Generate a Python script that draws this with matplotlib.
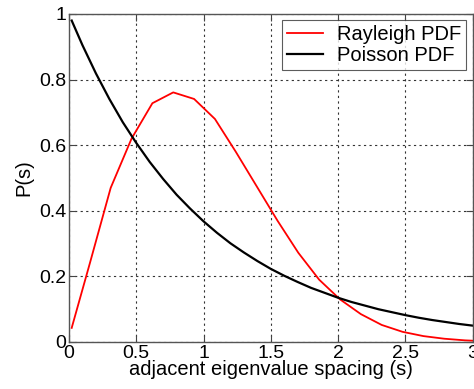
import matplotlib
matplotlib.use("Agg")
import matplotlib.pyplot as plt

# Rayleigh PDF (red)
s_rayleigh = [0.02, 0.155, 0.31, 0.465, 0.62, 0.775, 0.93, 1.085, 1.24, 1.395,
              1.55, 1.705, 1.86, 2.015, 2.17, 2.325, 2.48, 2.635, 2.79, 2.945, 3.0]
p_rayleigh = [0.043, 0.24, 0.47, 0.62, 0.728, 0.761, 0.741, 0.68, 0.58, 0.475,
              0.37, 0.272, 0.19, 0.13, 0.085, 0.052, 0.031, 0.018, 0.010, 0.005, 0.004]

# Poisson PDF (black)
s_poisson = [0.02, 0.1, 0.2, 0.3, 0.4, 0.5, 0.6, 0.7, 0.8, 0.9, 1.0,
             1.1, 1.2, 1.3, 1.4, 1.5, 1.6, 1.7, 1.8, 1.9, 2.0,
             2.1, 2.2, 2.3, 2.4, 2.5, 2.6, 2.7, 2.8, 2.9, 3.0]
p_poisson = [0.98, 0.905, 0.819, 0.741, 0.670, 0.607, 0.549, 0.497, 0.449, 0.407, 0.368,
             0.333, 0.301, 0.273, 0.247, 0.223, 0.202, 0.183, 0.165, 0.150, 0.135,
             0.122, 0.111, 0.100, 0.091, 0.082, 0.074, 0.067, 0.061, 0.055, 0.050]

x_ticks = [0, 0.5, 1, 1.5, 2, 2.5, 3]
x_tick_labels = ["0", "0.5", "1", "1.5", "2", "2.5", "3"]
y_ticks = [0, 0.2, 0.4, 0.6, 0.8, 1]
y_tick_labels = ["0", "0.2", "0.4", "0.6", "0.8", "1"]

plt.rcParams['font.family'] = ['Liberation Sans', 'DejaVu Sans']

W, H = 474, 389
fig = plt.figure(figsize=(W / 100, H / 100), dpi=100)
ax = fig.add_axes([69 / W, 1 - 342 / H, (472.5 - 69) / W, (342 - 14) / H])

ax.plot(s_rayleigh, p_rayleigh, color="#ff0000", lw=1.3, label="Rayleigh PDF")
ax.plot(s_poisson, p_poisson, color="black", lw=1.6, label="Poisson PDF")

ax.set_xlim(0, 3)
ax.set_ylim(0, 1)
ax.set_xticks(x_ticks)
ax.set_xticklabels(x_tick_labels)
ax.set_yticks(y_ticks)
ax.set_yticklabels(y_tick_labels)

ax.grid(True, color="#333333", linestyle=(0, (2, 3)), linewidth=0.8)
ax.tick_params(direction="in", top=True, right=True, length=5, width=0.8,
               colors="#444444", labelcolor="black", labelsize=14, pad=2)
for sp in ax.spines.values():
    sp.set_color("#555555")
    sp.set_linewidth(1.0)

ax.set_xlabel("adjacent eigenvalue spacing (s)", fontsize=14.5, labelpad=-1)
ax.set_ylabel("P(s)", fontsize=14.5, labelpad=4)

leg = ax.legend(loc="upper right", fontsize=14.5, frameon=True, fancybox=False,
                edgecolor="#333333", handlelength=1.8, borderaxespad=0.3,
                borderpad=0.25, labelspacing=0.1, handletextpad=0.7)
leg.get_frame().set_linewidth(0.8)

fig.savefig("out.png", dpi=100)
